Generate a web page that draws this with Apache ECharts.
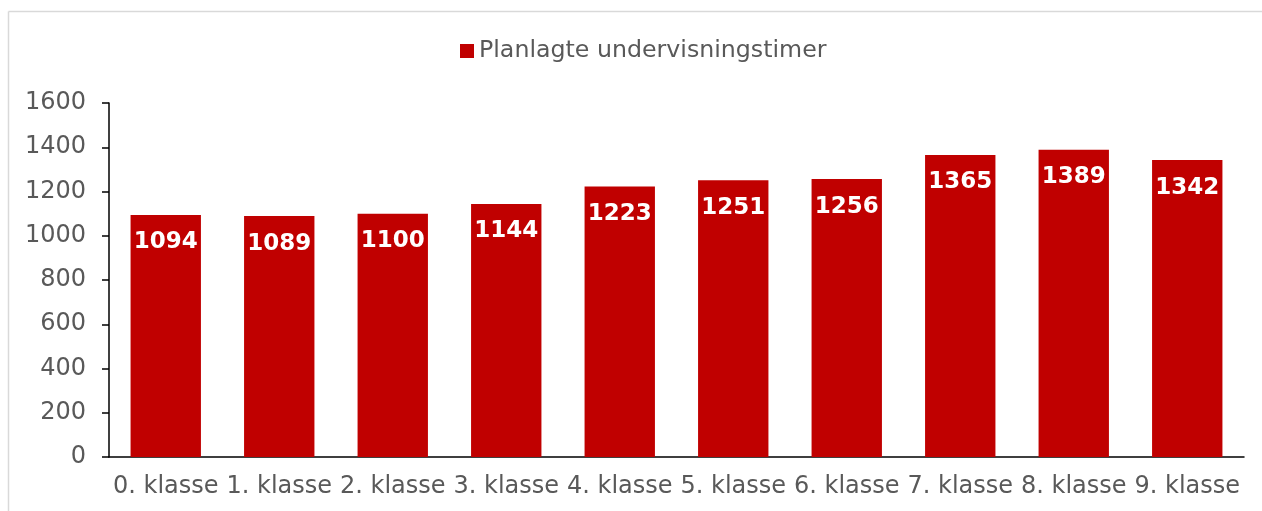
<!DOCTYPE html>
<html>
<head>
<meta charset="utf-8">
<script src="https://cdn.jsdelivr.net/npm/echarts@6/dist/echarts.min.js"></script>
<style>
  html, body { margin: 0; padding: 0; background: #fff; overflow: hidden; }
  #chart { width: 1262px; height: 511px; }
</style>
</head>
<body>
<div id="chart"></div>
<script>
// data
const categories = ['0. klasse', '1. klasse', '2. klasse', '3. klasse', '4. klasse',
  '5. klasse', '6. klasse', '7. klasse', '8. klasse', '9. klasse']
const timer = [1094, 1089, 1100, 1144, 1223, 1251, 1256, 1365, 1389, 1342]
const seriesName = 'Planlagte undervisningstimer'

const font = 'Verdana, "DejaVu Sans", sans-serif'
const grey = '#595959'

const myChart = echarts.init(document.getElementById('chart'))
// only the top and left edge of the outer frame are inside the picture
const frame = { stroke: '#d9d9d9', lineWidth: 1.5 }
const options = {
  animation: false,
  textStyle: { fontFamily: font },
  graphic: [
    { type: 'line', shape: { x1: 8.5, y1: 11.5, x2: 1262, y2: 11.5 }, style: frame, silent: true },
    { type: 'line', shape: { x1: 8.5, y1: 11.5, x2: 8.5, y2: 511 }, style: frame, silent: true }
  ],
  legend: {
    top: 34,
    left: 455,
    icon: 'rect',
    itemWidth: 14,
    itemHeight: 14,
    itemGap: 7,
    textStyle: { fontSize: 23.7, color: grey, fontFamily: font },
    data: [seriesName]
  },
  grid: { left: 109, right: 18, top: 103, bottom: 54 },
  xAxis: {
    type: 'category',
    data: categories,
    axisLine: { lineStyle: { color: '#000', width: 1.5 } },
    axisTick: { length: 8, lineStyle: { color: '#000', width: 1.5 } },
    axisLabel: { color: grey, fontSize: 24, margin: 18, interval: 0, fontFamily: font }
  },
  yAxis: {
    type: 'value',
    min: 0,
    max: 1600,
    interval: 200,
    splitLine: { show: false },
    axisLine: { show: true, lineStyle: { color: '#000', width: 1.5 } },
    axisTick: { show: true, length: 7, lineStyle: { color: '#000', width: 1.5 } },
    axisLabel: {
      color: grey, fontSize: 24, margin: 23, fontFamily: font,
      formatter: v => String(v)
    }
  },
  series: [{
    name: seriesName,
    type: 'bar',
    data: timer,
    barWidth: '62%',
    itemStyle: { color: '#c00000' },
    label: {
      show: true,
      position: 'insideTop',
      distance: 16,
      color: '#fff',
      fontWeight: 'bold',
      fontSize: 23,
      fontFamily: font
    }
  }]
}
myChart.setOption(options)
window.onresize = myChart.resize
</script>
</body>
</html>
